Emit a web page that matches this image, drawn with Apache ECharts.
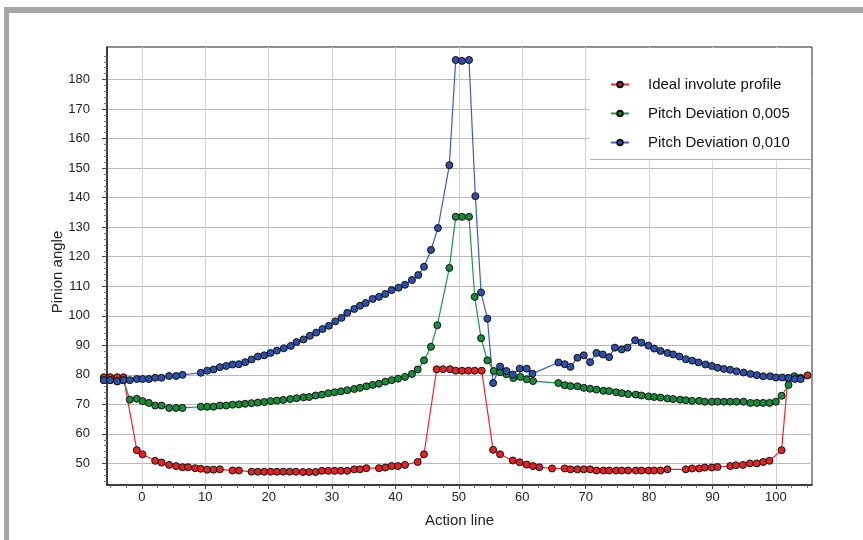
<!DOCTYPE html>
<html>
<head>
<meta charset="utf-8">
<script src="https://cdn.jsdelivr.net/npm/echarts@6/dist/echarts.min.js"></script>
<style>
html, body { margin: 0; padding: 0; background: #fff; }
#container { width: 863px; height: 540px; }
</style>
</head>
<body>
<div id="container"></div>
<script>
// [action line, pinion angle]
var idealProfile = [
    [-6.0, 79.2], [-5.0, 79.2], [-3.9, 79.2], [-2.9, 79.2],
    [-0.8, 54.5], [0.1, 53.1], [2.1, 50.9], [3.1, 50.3], [4.3, 49.5], [5.4, 49.1], [6.4, 48.7], [7.3, 48.7],
    [8.4, 48.4], [9.3, 48.2], [10.3, 47.9], [11.3, 47.9], [12.3, 48.0], [14.3, 47.6], [15.3, 47.6], [17.3, 47.2],
    [18.3, 47.2], [19.3, 47.2], [20.3, 47.2], [21.3, 47.2], [22.3, 47.2], [23.3, 47.2], [24.3, 47.2], [25.4, 47.1],
    [26.4, 47.1], [27.4, 47.1], [28.4, 47.5], [29.4, 47.5], [30.4, 47.5], [31.4, 47.5], [32.4, 47.5], [33.5, 48.0],
    [34.4, 48.0], [35.4, 48.4], [37.4, 48.4], [38.4, 48.6], [39.4, 49.1], [40.4, 49.1], [41.5, 49.5], [43.5, 50.5],
    [44.5, 53.1], [46.5, 81.9], [47.5, 81.9], [48.6, 81.9], [49.5, 81.4], [50.5, 81.4], [51.5, 81.4], [52.5, 81.4],
    [53.6, 81.4], [55.4, 54.6], [56.5, 53.1], [58.5, 51.0], [59.6, 50.4], [60.7, 49.6], [61.7, 49.1], [62.7, 48.7],
    [64.7, 48.3], [66.7, 48.3], [67.6, 48.0], [68.7, 48.0], [69.7, 48.0], [70.7, 48.0], [71.7, 47.6], [72.8, 47.6],
    [73.7, 47.6], [74.8, 47.6], [75.7, 47.6], [76.7, 47.6], [77.9, 47.6], [78.8, 47.6], [79.9, 47.6], [80.8, 47.6],
    [81.8, 47.6], [82.9, 48.0], [85.8, 48.0], [86.8, 48.3], [87.9, 48.3], [88.8, 48.6], [89.9, 48.6], [90.8, 48.8],
    [92.8, 49.1], [93.7, 49.4], [94.8, 49.5], [95.9, 50.0], [97.0, 50.0], [98.0, 50.5], [99.0, 50.9], [100.9, 54.5],
    [101.9, 78.9], [102.9, 78.9], [103.9, 79.0], [105.0, 79.8]
];
var pitchDev005 = [
    [-6.0, 78.2], [-5.0, 78.2], [-3.9, 77.8], [-2.9, 78.2],
    [-1.9, 71.6], [-0.8, 71.9], [0.1, 71.1], [1.1, 70.5], [2.1, 69.6], [3.1, 69.6], [4.3, 68.8], [5.4, 68.8],
    [6.4, 68.8], [9.3, 69.2], [10.3, 69.2], [11.3, 69.2], [12.3, 69.6], [13.3, 69.6], [14.3, 69.9], [15.3, 70.0],
    [16.3, 70.2], [17.3, 70.4], [18.3, 70.6], [19.3, 70.8], [20.3, 71.1], [21.3, 71.3], [22.3, 71.5], [23.4, 71.8],
    [24.4, 72.1], [25.5, 72.4], [26.4, 72.5], [27.4, 73.0], [28.4, 73.3], [29.4, 73.8], [30.4, 74.1], [31.4, 74.4],
    [32.4, 74.8], [33.5, 75.2], [34.4, 75.6], [35.4, 76.1], [36.4, 76.6], [37.4, 77.0], [38.4, 77.7], [39.4, 78.2],
    [40.4, 78.7], [41.5, 79.3], [42.6, 80.3], [43.5, 81.8], [44.5, 84.9], [45.6, 89.5], [46.6, 96.8], [48.5, 116.2],
    [49.5, 133.5], [50.5, 133.5], [51.6, 133.5], [52.5, 106.4], [53.5, 92.4], [54.5, 84.9], [55.5, 81.3], [56.5, 80.9],
    [57.5, 80.2], [58.6, 78.9], [59.7, 79.3], [60.7, 78.5], [61.7, 77.9], [65.7, 77.2], [66.7, 76.5], [67.6, 76.2],
    [68.7, 76.1], [69.7, 75.6], [70.7, 75.3], [71.7, 75.0], [72.8, 74.6], [73.7, 74.5], [74.8, 74.1], [75.7, 73.8],
    [76.7, 73.5], [77.9, 73.3], [78.8, 73.0], [79.9, 72.7], [80.8, 72.5], [81.8, 72.3], [82.9, 72.0], [83.8, 71.8],
    [84.9, 71.6], [85.8, 71.4], [86.8, 71.2], [87.9, 71.2], [88.8, 70.9], [89.9, 70.9], [90.8, 70.9], [91.8, 70.9],
    [92.8, 70.9], [93.8, 70.9], [94.9, 70.9], [96.0, 70.5], [97.0, 70.5], [98.0, 70.5], [99.0, 70.5], [100.0, 70.9],
    [100.9, 72.9], [102.0, 76.6], [102.9, 79.5], [103.9, 78.7]
];
var pitchDev010 = [
    [-6.0, 78.2], [-5.0, 78.2], [-3.9, 77.8], [-2.9, 78.2], [-1.9, 78.2], [-0.8, 78.6], [0.1, 78.6], [1.1, 78.6],
    [2.1, 79.0], [3.1, 79.0], [4.3, 79.6], [5.4, 79.6], [6.4, 80.0], [9.3, 80.7], [10.3, 81.4], [11.3, 81.8],
    [12.3, 82.6], [13.3, 83.0], [14.3, 83.5], [15.3, 83.6], [16.3, 84.3], [17.3, 85.2], [18.3, 86.2], [19.3, 86.6],
    [20.3, 87.4], [21.3, 88.2], [22.4, 89.0], [23.5, 89.8], [24.4, 91.1], [25.5, 92.0], [26.5, 93.2], [27.5, 94.3],
    [28.5, 95.5], [29.5, 96.6], [30.5, 98.1], [31.5, 99.3], [32.4, 101.0], [33.5, 102.3], [34.4, 103.4], [35.3, 104.3],
    [36.4, 105.7], [37.4, 106.4], [38.4, 107.4], [39.4, 108.7], [40.5, 109.5], [41.5, 110.5], [42.6, 112.1], [43.6, 113.8],
    [44.5, 116.6], [45.6, 122.3], [46.7, 129.7], [48.5, 151.0], [49.5, 186.6], [50.5, 186.3], [51.6, 186.6], [52.6, 140.5],
    [53.5, 107.9], [54.5, 99.0], [55.4, 77.2], [56.5, 82.8], [57.5, 81.3], [58.5, 80.1], [59.6, 82.1], [60.7, 82.1],
    [61.6, 80.4], [65.7, 84.2], [66.7, 83.6], [67.6, 82.7], [68.7, 85.8], [69.7, 86.6], [70.7, 84.3], [71.7, 87.4],
    [72.7, 86.9], [73.7, 86.0], [74.6, 89.2], [75.7, 88.6], [76.6, 89.2], [77.8, 91.7], [78.8, 90.9], [79.9, 89.9],
    [80.8, 88.9], [81.8, 88.1], [82.9, 87.4], [83.8, 86.9], [84.8, 86.2], [85.8, 85.3], [86.8, 84.8], [87.8, 84.2],
    [88.9, 83.5], [89.9, 83.0], [90.8, 82.4], [91.8, 82.0], [92.8, 81.7], [93.8, 81.2], [94.9, 80.8], [96.0, 80.3],
    [97.0, 79.9], [98.0, 79.5], [99.1, 79.5], [100.0, 79.1], [101.0, 79.1], [102.0, 78.9], [103.0, 78.6], [103.9, 78.6]
];
var seriesNames = ['Ideal involute profile', 'Pitch Deviation 0,005', 'Pitch Deviation 0,010'];
var xTicks = [0, 10, 20, 30, 40, 50, 60, 70, 80, 90, 100];
var yTicks = [50, 60, 70, 80, 90, 100, 110, 120, 130, 140, 150, 160, 170, 180];
var lineColors = ['#f0262a', '#1f9444', '#3d5cc0'];
var dotColors = ['#e32226', '#1a8a3c', '#3050a8'];

var font = "'Liberation Sans', Arial, sans-serif";
var dom = document.getElementById("container");
var myChart = echarts.init(dom, null, { renderer: 'canvas' });

function makeSeries(i, data) {
    return {
        name: seriesNames[i],
        type: 'line',
        data: data,
        symbol: 'circle',
        symbolSize: 7,
        clip: false,
        lineStyle: { color: lineColors[i], width: 1.2 },
        itemStyle: { color: dotColors[i], borderColor: '#111', borderWidth: 1 },
        emphasis: { disabled: true }
    };
}

var option = {
    backgroundColor: '#fff',
    animation: false,
    textStyle: { fontFamily: font },
    grid: {
        left: 107, right: 51, top: 47, bottom: 55,
        show: true, borderColor: '#222', borderWidth: 1
    },
    legend: {
        left: 590, top: 48,
        orient: 'vertical',
        backgroundColor: '#fff',
        padding: [29, 21, 11, 20],
        itemWidth: 18,
        itemHeight: 7,
        itemGap: 14,
        textStyle: { fontSize: 15, color: '#111', fontFamily: font, padding: [0, 0, 0, 14] },
        data: seriesNames
    },
    xAxis: {
        type: 'value',
        min: -5.5, max: 105.7,
        splitNumber: 11,
        name: 'Action line',
        nameLocation: 'middle',
        nameGap: 28,
        nameTextStyle: { fontSize: 15, color: '#222', fontFamily: font },
        axisLine: { onZero: false, lineStyle: { color: '#222', width: 1.5 } },
        axisTick: { length: 4, customValues: xTicks, lineStyle: { color: '#444' } },
        minorTick: { show: true, splitNumber: 4, length: 3, lineStyle: { color: '#666' } },
        axisLabel: { customValues: xTicks, fontSize: 13, color: '#222', margin: 6, fontFamily: font },
        splitLine: { show: true, lineStyle: { color: '#d2d2d2', width: 1 } }
    },
    yAxis: {
        type: 'value',
        min: 42.7, max: 191.0,
        splitNumber: 14,
        name: 'Pinion angle',
        nameLocation: 'middle',
        nameGap: 42,
        nameMoveOverlap: false,
        nameTextStyle: { fontSize: 15, color: '#222', fontFamily: font, padding: [0, 12, 0, 0] },
        axisLine: { show: true, onZero: false, lineStyle: { color: '#222', width: 1.5 } },
        axisTick: { show: true, length: 5, customValues: yTicks, lineStyle: { color: '#444' } },
        minorTick: { show: true, splitNumber: 5, length: 3, lineStyle: { color: '#777' } },
        axisLabel: { customValues: yTicks, fontSize: 13, color: '#222', margin: 17, fontFamily: font },
        splitLine: { show: true, lineStyle: { color: '#b8b8b8', width: 1 } }
    },
    graphic: [
        { type: 'rect', silent: true, shape: { x: 4, y: 7, width: 859, height: 6 }, style: { fill: '#a6a6aa' } },
        { type: 'rect', silent: true, shape: { x: 4, y: 7, width: 5, height: 533 }, style: { fill: '#a6a6aa' } },
        { type: 'line', silent: true, z: 10, shape: { x1: 590, y1: 159.5, x2: 811, y2: 159.5 }, style: { stroke: '#b4b4b4', lineWidth: 1 } }
    ],
    series: [
        makeSeries(0, idealProfile),
        makeSeries(1, pitchDev005),
        makeSeries(2, pitchDev010)
    ]
};
myChart.setOption(option);
</script>
</body>
</html>
